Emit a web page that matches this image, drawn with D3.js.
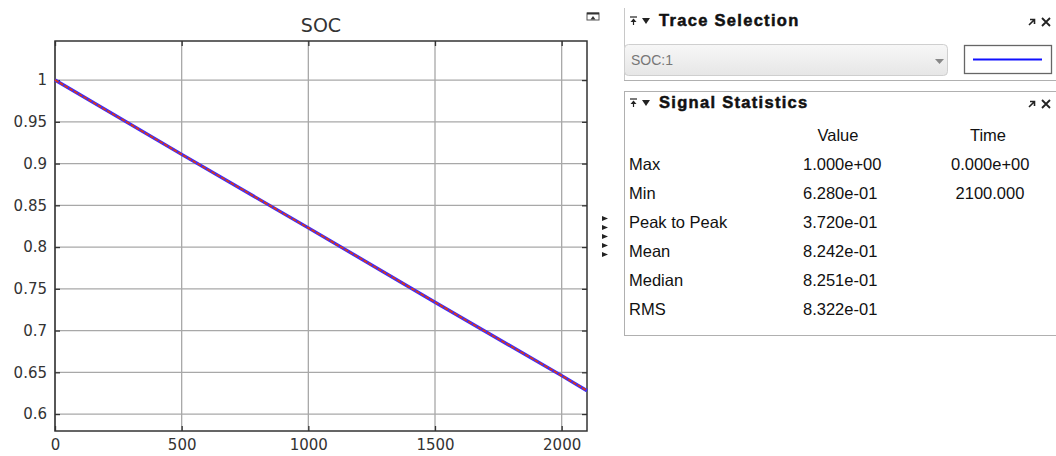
<!DOCTYPE html>
<html>
<head>
<meta charset="utf-8">
<script src="https://cdn.jsdelivr.net/npm/d3@7"></script>
<style>
  body { margin: 0; background: #fff; }
  svg { display: block; }
</style>
</head>
<body>
<div id="chart"></div>
<script>
// SOC trace
const times = [0, 500, 1000, 1500, 2000, 2100];
const soc = [1.0, 0.911, 0.823, 0.734, 0.646, 0.628];

const xTicks = [0, 500, 1000, 1500, 2000];
const yTicks = [0.6, 0.65, 0.7, 0.75, 0.8, 0.85, 0.9, 0.95, 1];

// signal statistics table
const statNames = ['Max', 'Min', 'Peak to Peak', 'Mean', 'Median', 'RMS'];
const statValues = ['1.000e+00', '6.280e-01', '3.720e-01', '8.242e-01', '8.251e-01', '8.322e-01'];
const statTimes = ['0.000e+00', ' 2100.000', '', '', '', ''];

const traceName = 'SOC:1';

const W = 1056, H = 456;
const margin = { top: 41, right: 469, bottom: 25, left: 55 };
const graphWidth = W - margin.left - margin.right;
const graphHeight = H - margin.top - margin.bottom;

const svg = d3.select('#chart')
  .append('svg')
  .attr('width', W)
  .attr('height', H);

const graph = svg.append('g')
  .attr('transform', `translate(${margin.left}, ${margin.top})`);

const x = d3.scaleLinear().domain([0, 2100]).range([0, graphWidth]);
const y = d3.scaleLinear().domain([0.5797, 1.0468]).range([graphHeight, 0]);

// grid
graph.append('g')
  .selectAll('line.vx')
  .data(xTicks)
  .enter().append('line')
  .attr('x1', d => x(d)).attr('x2', d => x(d))
  .attr('y1', 0).attr('y2', graphHeight)
  .attr('stroke', '#a8a8a8').attr('stroke-width', 1.3);

graph.append('g')
  .selectAll('line.hy')
  .data(yTicks)
  .enter().append('line')
  .attr('x1', 0).attr('x2', graphWidth)
  .attr('y1', d => y(d)).attr('y2', d => y(d))
  .attr('stroke', '#a8a8a8').attr('stroke-width', 1.3);

// axes, ticks drawn inward
const xAxis = d3.axisBottom(x).tickValues(xTicks).tickSize(-5).tickPadding(8)
  .tickFormat(d3.format('d'));
const yAxis = d3.axisLeft(y).tickValues(yTicks).tickSize(-5).tickPadding(8)
  .tickFormat(d => String(+d.toFixed(2)));

const xAxisGroup = graph.append('g')
  .attr('transform', `translate(0, ${graphHeight})`)
  .call(xAxis);
const yAxisGroup = graph.append('g').call(yAxis);
graph.append('g').call(d3.axisTop(x).tickValues(xTicks).tickSize(-5).tickFormat(''));
graph.append('g').attr('transform', `translate(${graphWidth}, 0)`)
  .call(d3.axisRight(y).tickValues(yTicks).tickSize(-5).tickFormat(''));

graph.selectAll('.domain').remove();
graph.selectAll('.tick line').attr('stroke', '#333').attr('stroke-width', 1.3);
[xAxisGroup, yAxisGroup].forEach(g => g.selectAll('text')
  .attr('font-family', 'DejaVu Sans')
  .attr('font-size', 15)
  .attr('fill', '#333'));

graph.append('rect')
  .attr('width', graphWidth).attr('height', graphHeight)
  .attr('fill', 'none').attr('stroke', '#333').attr('stroke-width', 1.5);

// trace: blue line under a red one
const pts = times.map((t, i) => ({ t: t, v: soc[i] }));
const line = d3.line().x(d => x(d.t)).y(d => y(d.v));

graph.append('path').datum(pts)
  .attr('fill', 'none').attr('stroke', '#3b2cff').attr('stroke-width', 3.4)
  .attr('d', line);
graph.append('path').datum(pts)
  .attr('fill', 'none').attr('stroke', '#d8381c').attr('stroke-width', 1.8)
  .attr('stroke-dasharray', '4,1.5')
  .attr('d', line);

svg.append('text')
  .attr('x', margin.left + graphWidth / 2).attr('y', 32)
  .attr('text-anchor', 'middle')
  .attr('font-family', 'DejaVu Sans').attr('font-size', 19)
  .attr('fill', '#333')
  .text('SOC');

// right-hand panels
const panelFont = 'Liberation Sans, Arial, sans-serif';

// undock icon near the plot
svg.append('rect').attr('x', 587).attr('y', 13).attr('width', 12).attr('height', 7)
  .attr('fill', 'none').attr('stroke', '#555').attr('stroke-width', 1);
svg.append('line').attr('x1', 587).attr('x2', 599).attr('y1', 13.5).attr('y2', 13.5)
  .attr('stroke', '#333').attr('stroke-width', 2);
svg.append('path').attr('d', 'M590.5,19.5 L593,16 L595.5,19.5 Z').attr('fill', '#333');

// collapse arrows between plot and panels
svg.append('g').selectAll('path')
  .data(d3.range(5))
  .enter().append('path')
  .attr('d', (d, i) => `M602,${216 + i * 9} L608,${218.5 + i * 9} L602,${221 + i * 9} Z`)
  .attr('fill', '#222');

// panel borders
svg.append('line').attr('x1', 624.5).attr('x2', 624.5).attr('y1', 8).attr('y2', 80)
  .attr('stroke', '#c8c8c8');
svg.append('line').attr('x1', 624).attr('x2', W).attr('y1', 80.5).attr('y2', 80.5)
  .attr('stroke', '#b0b0b0');
svg.append('rect').attr('x', 624.5).attr('y', 91.5).attr('width', 440).attr('height', 244)
  .attr('fill', 'none').attr('stroke', '#b0b0b0');

const headerIcons = (yy) => {
  const g = svg.append('g');
  g.append('line').attr('x1', 630).attr('x2', 637).attr('y1', yy - 7).attr('y2', yy - 7)
    .attr('stroke', '#222').attr('stroke-width', 1.2);
  g.append('path').attr('d', `M630.5,${yy - 2} L633.5,${yy - 5.5} L636.5,${yy - 2} Z`).attr('fill', '#222');
  g.append('line').attr('x1', 633.5).attr('x2', 633.5).attr('y1', yy - 3).attr('y2', yy + 1)
    .attr('stroke', '#222').attr('stroke-width', 1.2);
  g.append('path').attr('d', `M642,${yy - 6} L650,${yy - 6} L646,${yy} Z`).attr('fill', '#222');
  // dock / close
  g.append('path').attr('d', `M1029,${yy + 1} L1034,${yy - 4} M1030,${yy - 4.5} L1034.5,${yy - 4.5} L1034.5,${yy}`)
    .attr('stroke', '#222').attr('stroke-width', 1.6).attr('fill', 'none');
  g.append('path').attr('d', `M1042,${yy - 6} L1050,${yy + 2} M1050,${yy - 6} L1042,${yy + 2}`)
    .attr('stroke', '#222').attr('stroke-width', 1.8);
};

const header = (yy, txt) => svg.append('text').attr('x', 659).attr('y', yy)
  .attr('font-family', panelFont).attr('font-weight', 'bold').attr('font-size', 16.5)
  .attr('letter-spacing', 1.3)
  .attr('fill', '#111').attr('stroke', '#111').attr('stroke-width', 0.5)
  .text(txt);

header(26, 'Trace Selection');
headerIcons(24);
header(108, 'Signal Statistics');
headerIcons(106);

// dropdown
const grad = svg.append('defs').append('linearGradient')
  .attr('id', 'dd').attr('x1', 0).attr('x2', 0).attr('y1', 0).attr('y2', 1);
grad.append('stop').attr('offset', 0).attr('stop-color', '#f7f7f7');
grad.append('stop').attr('offset', 1).attr('stop-color', '#e6e6e6');

svg.append('rect').attr('x', 624.5).attr('y', 44.5).attr('width', 323).attr('height', 31).attr('rx', 4)
  .attr('fill', 'url(#dd)').attr('stroke', '#cfcfcf');
svg.append('text').attr('x', 631).attr('y', 65)
  .attr('font-family', panelFont).attr('font-size', 14).attr('fill', '#777')
  .text(traceName);
svg.append('path').attr('d', 'M935,59 L944,59 L939.5,64 Z').attr('fill', '#888');

// line swatch
svg.append('rect').attr('x', 964.5).attr('y', 45.5).attr('width', 87).attr('height', 28)
  .attr('fill', '#fff').attr('stroke', '#666').attr('stroke-width', 1.3);
svg.append('line').attr('x1', 973).attr('x2', 1042).attr('y1', 59.5).attr('y2', 59.5)
  .attr('stroke', '#1010ff').attr('stroke-width', 2);

// stats table
const rowY = d3.scalePoint().domain(statNames).range([170, 315]);

const addText = (xx, yy, txt, anchor) => svg.append('text')
  .attr('x', xx).attr('y', yy)
  .attr('text-anchor', anchor || 'start')
  .attr('font-family', panelFont).attr('font-size', 16.5)
  .attr('fill', '#111')
  .attr('xml:space', 'preserve')
  .text(txt);

addText(838, 141, 'Value', 'middle');
addText(988, 141, 'Time', 'middle');

statNames.forEach((name, i) => {
  addText(629, rowY(name), name);
  addText(803, rowY(name), statValues[i]);
  if (statTimes[i]) addText(951, rowY(name), statTimes[i]);
});
</script>
</body>
</html>
